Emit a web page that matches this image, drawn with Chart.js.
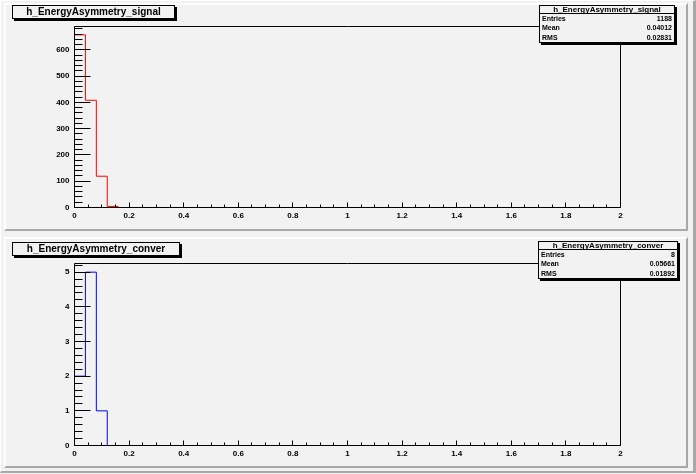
<!DOCTYPE html>
<html>
<head>
<meta charset="utf-8">
<script src="https://cdn.jsdelivr.net/npm/chart.js@4/dist/chart.umd.min.js"></script>
<style>
  html,body{margin:0;padding:0;background:#f2f2f2;}
  body{width:696px;height:474px;position:relative;overflow:hidden;font-family:"Liberation Sans",Arial,sans-serif;}
  .outer{position:absolute;left:0;top:0;width:692px;height:470px;background:#f2f2f2;
         border-top:1px solid #fff;border-left:1px solid #fff;border-right:3px solid #a8a8a8;border-bottom:2px solid #a8a8a8;}
  .pad{position:absolute;background:#f2f2f2;border-top:2px solid #fdfdfd;border-left:2px solid #fdfdfd;
       border-right:2px solid #a8a8a8;border-bottom:2px solid #a8a8a8;box-sizing:border-box;}
  canvas{position:absolute;left:0;}
  .title{position:absolute;background:#f2f2f2;border:1px solid #000;box-shadow:2px 2px 0 #000;
         font-weight:bold;font-size:10px;line-height:12px;text-align:center;color:#000;white-space:nowrap;box-sizing:border-box;}
  .stats{position:absolute;background:#f2f2f2;border:1px solid #000;box-shadow:2px 2px 0 #000;box-sizing:border-box;color:#000;font-weight:bold;}
  .stats .st{height:7px;line-height:7px;font-size:8px;text-align:center;border-bottom:1px solid #000;white-space:nowrap;overflow:visible;}
  .stats .row{height:9.3px;line-height:9.3px;font-size:7px;display:flex;justify-content:space-between;padding:0 2px;}
</style>
</head>
<body>
<div class="outer"></div>
<div class="pad" style="left:4px;top:3px;width:684px;height:228px;"></div>
<div class="pad" style="left:4px;top:237px;width:684px;height:231px;"></div>

<canvas id="c1" width="696" height="234" style="top:0px"></canvas>
<canvas id="c2" width="696" height="236" style="top:236px"></canvas>

<div class="title" style="left:12px;top:5px;width:163px;height:14px;">h_EnergyAsymmetry_signal</div>
<div class="stats" style="left:539px;top:5px;width:136px;height:38px;">
  <div class="st">h_EnergyAsymmetry_signal</div>
  <div class="row"><span>Entries</span><span>1188</span></div>
  <div class="row"><span>Mean</span><span>0.04012</span></div>
  <div class="row"><span>RMS</span><span>0.02831</span></div>
</div>

<div class="title" style="left:12px;top:242px;width:168px;height:14px;">h_EnergyAsymmetry_conver</div>
<div class="stats" style="left:538px;top:241px;width:140px;height:38px;">
  <div class="st">h_EnergyAsymmetry_conver</div>
  <div class="row"><span>Entries</span><span>8</span></div>
  <div class="row"><span>Mean</span><span>0.05661</span></div>
  <div class="row"><span>RMS</span><span>0.01892</span></div>
</div>

<script>
// ---- data ----
const xMin = 0;
const xMax = 2;
const binWidth = 0.04;
const signalCounts = [657, 408, 119, 4, 0, 0, 0, 0, 0, 0,
                      0, 0, 0, 0, 0, 0, 0, 0, 0, 0,
                      0, 0, 0, 0, 0, 0, 0, 0, 0, 0,
                      0, 0, 0, 0, 0, 0, 0, 0, 0, 0,
                      0, 0, 0, 0, 0, 0, 0, 0, 0, 0];
const converCounts = [2, 5, 1, 0, 0, 0, 0, 0, 0, 0,
                      0, 0, 0, 0, 0, 0, 0, 0, 0, 0,
                      0, 0, 0, 0, 0, 0, 0, 0, 0, 0,
                      0, 0, 0, 0, 0, 0, 0, 0, 0, 0,
                      0, 0, 0, 0, 0, 0, 0, 0, 0, 0];
const xTickLabels = ['0', '0.2', '0.4', '0.6', '0.8', '1', '1.2', '1.4', '1.6', '1.8', '2'];
const signalYTickLabels = ['0', '100', '200', '300', '400', '500', '600'];
const converYTickLabels = ['0', '1', '2', '3', '4', '5'];
const signalYMax = 688.8;
const converYMax = 5.25;

function histPoints(counts) {
  const pts = counts.map((c, i) => ({x: xMin + i * binWidth, y: c}));
  pts.push({x: xMax, y: counts[counts.length - 1]});
  return pts;
}

// ROOT-like frame and inward ticks drawn via the chart's own scales
const rootAxes = {
  id: 'rootAxes',
  afterDatasetsDraw(chart, args, opts) {
    const ctx = chart.ctx;
    const xs = chart.scales.x, ys = chart.scales.y;
    const L = xs.getPixelForValue(xs.min), R = xs.getPixelForValue(xs.max);
    const B = ys.getPixelForValue(0), T = ys.getPixelForValue(ys.max);
    ctx.save();
    ctx.strokeStyle = '#000';
    ctx.lineWidth = 1;
    ctx.beginPath();
    ctx.rect(L, T, R - L, B - T);
    for (let k = 0; k * opts.yMinor <= ys.max + 1e-9; k++) {
      const py = Math.round(ys.getPixelForValue(k * opts.yMinor) - 0.5) + 0.5;
      const len = (k % opts.yDiv === 0) ? 16 : 8;
      ctx.moveTo(L, py); ctx.lineTo(L + len, py);
    }
    for (let k = 0; k * opts.xMinor <= xs.max + 1e-9; k++) {
      const px = Math.round(xs.getPixelForValue(k * opts.xMinor) - 0.5) + 0.5;
      const len = (k % opts.xDiv === 0) ? 5 : 3;
      ctx.moveTo(px, B); ctx.lineTo(px, B - len);
    }
    ctx.stroke();
    ctx.restore();
  }
};

function makeChart(id, counts, color, yMax, yStep, yLabels, yMinor, topPad, xHeight) {
  return new Chart(document.getElementById(id), {
    type: 'line',
    data: {
      datasets: [{
        data: histPoints(counts),
        borderColor: color,
        borderWidth: 1,
        pointRadius: 0,
        stepped: 'before',
        fill: false
      }]
    },
    options: {
      responsive: false,
      animation: false,
      devicePixelRatio: 1,
      layout: {padding: {top: topPad, right: 75.5, left: 0, bottom: 0}},
      plugins: {
        legend: {display: false},
        tooltip: {enabled: false},
        rootAxes: {yMinor: yMinor, yDiv: 5, xMinor: 0.05, xDiv: 4}
      },
      scales: {
        x: {
          type: 'linear', min: xMin, max: xMax,
          grid: {display: false, drawTicks: false}, border: {display: false},
          afterFit: s => { s.height = xHeight; },
          ticks: {
            stepSize: 0.2, autoSkip: false, maxRotation: 0, padding: 3,
            color: '#000', font: {family: 'Liberation Sans', size: 8, weight: 'bold'},
            callback: v => xTickLabels[Math.round(v / 0.2)]
          }
        },
        y: {
          type: 'linear', min: 0, max: yMax,
          grid: {display: false, drawTicks: false}, border: {display: false},
          afterFit: s => { s.width = 74.5; },
          ticks: {
            stepSize: yStep, includeBounds: false, padding: 5,
            color: '#000', font: {family: 'Liberation Sans', size: 8, weight: 'bold'},
            callback: v => yLabels[Math.round(v / yStep)]
          }
        }
      }
    },
    plugins: [rootAxes]
  });
}

makeChart('c1', signalCounts, '#ff0000', signalYMax, 100, signalYTickLabels, 20, 26.5, 26.5);
makeChart('c2', converCounts, '#0000ff', converYMax, 1, converYTickLabels, 0.2, 27.5, 26.5);
</script>
</body>
</html>
